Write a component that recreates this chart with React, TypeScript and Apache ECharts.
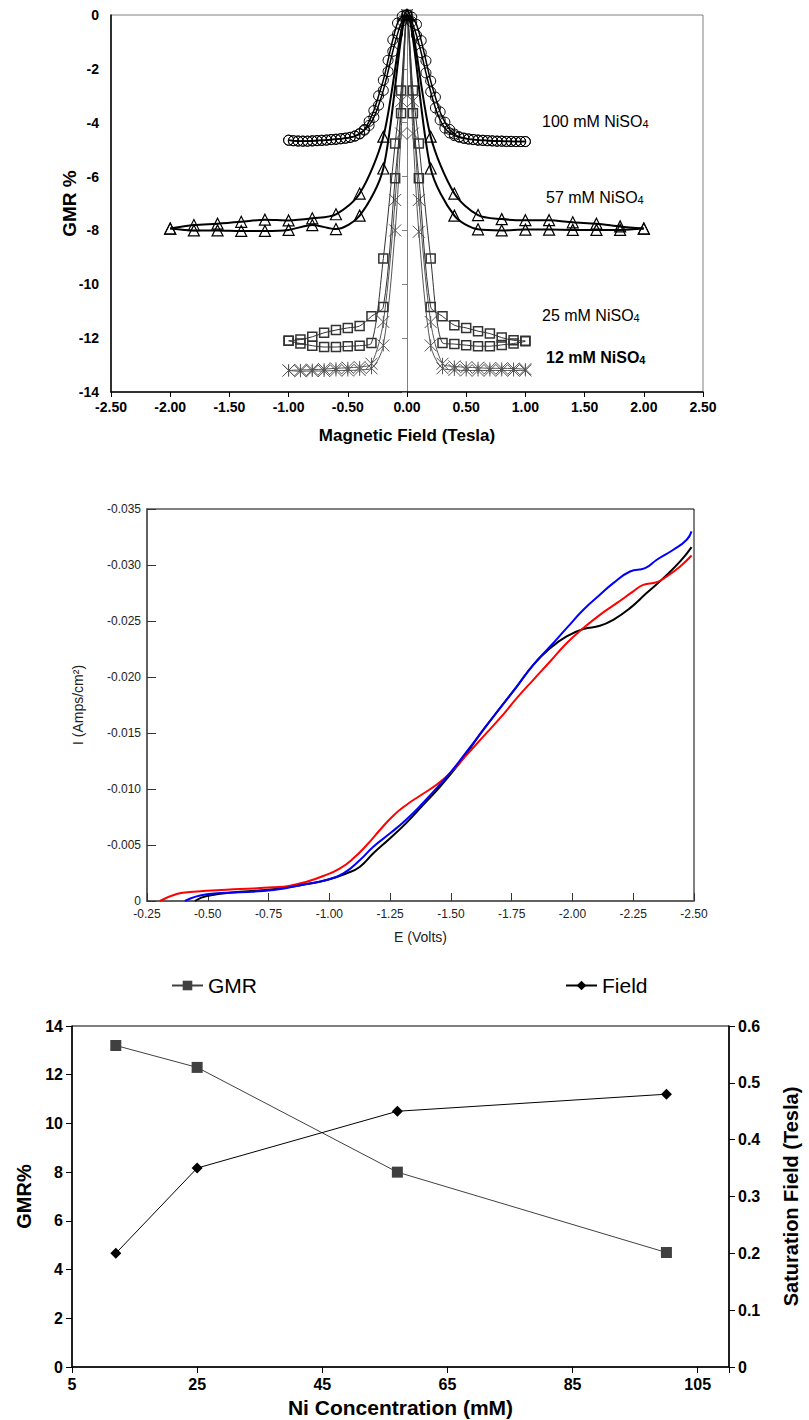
import React, { useEffect, useRef } from 'react';
import * as echarts from 'echarts';

const FONT = '"Liberation Sans", Arial, Helvetica, sans-serif';

// ---- Panel 1: GMR loops versus magnetic field, one pair of sweep branches per bath ----
const fieldFine = [
  -1.0, -0.96, -0.92, -0.88, -0.84, -0.8, -0.76, -0.72, -0.68, -0.64, -0.6, -0.56, -0.52,
  -0.48, -0.44, -0.4, -0.36, -0.32, -0.28, -0.24, -0.2, -0.16, -0.12, -0.08, -0.04, 0,
  0.04, 0.08, 0.12, 0.16, 0.2, 0.24, 0.28, 0.32, 0.36, 0.4, 0.44, 0.48, 0.52, 0.56, 0.6,
  0.64, 0.68, 0.72, 0.76, 0.8, 0.84, 0.88, 0.92, 0.96, 1.0,
];
const gmr100Up = [
  -4.65, -4.67, -4.68, -4.69, -4.69, -4.68, -4.67, -4.66, -4.65, -4.63, -4.62, -4.6, -4.58,
  -4.55, -4.5, -4.42, -4.25, -3.95, -3.55, -3.0, -2.42, -1.68, -0.92, -0.3, -0.05, 0,
  -0.25, -0.75, -1.4, -2.15, -2.85, -3.45, -3.9, -4.2, -4.38, -4.48, -4.54, -4.58, -4.61,
  -4.63, -4.65, -4.66, -4.67, -4.68, -4.69, -4.69, -4.7, -4.7, -4.7, -4.7, -4.7,
];
const gmr100Down = [
  -4.65, -4.67, -4.68, -4.68, -4.68, -4.67, -4.66, -4.65, -4.64, -4.62, -4.61, -4.59, -4.57,
  -4.54, -4.49, -4.4, -4.28, -4.1, -3.8, -3.35, -2.8, -2.1, -1.35, -0.7, -0.22, 0,
  -0.08, -0.35, -0.95, -1.7, -2.45, -3.05, -3.6, -3.98, -4.25, -4.42, -4.52, -4.57, -4.6,
  -4.62, -4.64, -4.65, -4.66, -4.67, -4.68, -4.68, -4.69, -4.69, -4.7, -4.7, -4.7,
];

const field57 = [-2.0, -1.8, -1.6, -1.4, -1.2, -1.0, -0.8, -0.6, -0.4, -0.2, 0, 0.2, 0.4, 0.6, 0.8, 1.0, 1.2, 1.4, 1.6, 1.8, 2.0];
const gmr57Up = [-7.93, -7.8, -7.75, -7.68, -7.6, -7.63, -7.55, -7.4, -6.63, -4.52, 0, -4.52, -6.63, -7.43, -7.58, -7.62, -7.62, -7.7, -7.75, -7.85, -7.93];
const gmr57Down = [-7.93, -8.0, -8.0, -8.02, -8.02, -7.98, -7.8, -7.95, -7.45, -5.7, 0, -5.7, -7.45, -7.96, -8.0, -7.97, -7.97, -7.98, -7.98, -7.98, -7.93];

const fieldCoarse = [-1.0, -0.9, -0.8, -0.7, -0.6, -0.5, -0.4, -0.3, -0.2, -0.1, -0.05, 0, 0.05, 0.1, 0.2, 0.3, 0.4, 0.5, 0.6, 0.7, 0.8, 0.9, 1.0];
const gmr25Up = [-12.1, -12.05, -11.95, -11.8, -11.7, -11.62, -11.55, -11.19, -10.84, -6.06, -3.65, 0, -3.65, -6.06, -10.84, -11.19, -11.52, -11.62, -11.74, -11.83, -11.98, -12.08, -12.1];
const gmr25Down = [-12.1, -12.2, -12.28, -12.33, -12.33, -12.3, -12.28, -12.18, -9.04, -4.77, -2.8, 0, -2.8, -4.77, -9.04, -12.18, -12.22, -12.26, -12.3, -12.3, -12.25, -12.2, -12.12];
const gmr12Up = [-13.2, -13.18, -13.17, -13.15, -13.12, -13.1, -13.07, -12.95, -11.4, -6.87, -3.2, 0, -3.2, -6.87, -11.4, -12.95, -13.05, -13.08, -13.1, -13.12, -13.12, -13.13, -13.15];
const gmr12Down = [-13.2, -13.23, -13.22, -13.22, -13.2, -13.2, -13.18, -13.12, -12.27, -8.0, -4.4, 0, -4.4, -8.05, -12.27, -13.12, -13.18, -13.2, -13.2, -13.2, -13.2, -13.2, -13.2];

const loopLabels = ['100 mM NiSO', '57 mM NiSO', '25 mM NiSO', '12 mM NiSO'];

// ---- Panel 2: polarisation curves, current density versus potential ----
const eBlack = [-0.447, -0.496, -0.633, -0.77, -0.907, -0.989, -1.071, -1.126, -1.181, -1.25, -1.318, -1.387, -1.455, -1.524, -1.565, -1.633, -1.702, -1.771, -1.839, -1.908, -1.976, -2.045, -2.113, -2.168, -2.237, -2.305, -2.374, -2.443, -2.49];
const iBlack = [0, -0.00045, -0.00083, -0.00104, -0.00152, -0.00188, -0.00247, -0.00306, -0.00426, -0.0056, -0.007, -0.0086, -0.0102, -0.012, -0.01319, -0.01528, -0.01722, -0.01915, -0.02109, -0.02257, -0.02362, -0.02428, -0.02457, -0.02511, -0.02615, -0.02749, -0.02883, -0.03032, -0.0316];
const eRed = [-0.303, -0.372, -0.427, -0.496, -0.633, -0.77, -0.838, -0.907, -0.975, -1.044, -1.099, -1.154, -1.208, -1.263, -1.318, -1.373, -1.442, -1.496, -1.565, -1.633, -1.702, -1.771, -1.839, -1.908, -1.976, -2.045, -2.113, -2.182, -2.25, -2.291, -2.347, -2.388, -2.443, -2.49];
const iRed = [0, -0.00063, -0.0008, -0.00092, -0.00107, -0.00122, -0.00137, -0.00172, -0.00223, -0.00292, -0.00381, -0.005, -0.00634, -0.00762, -0.0086, -0.0094, -0.0104, -0.01141, -0.01305, -0.01468, -0.01632, -0.01811, -0.01975, -0.02138, -0.02302, -0.02437, -0.02555, -0.02659, -0.02764, -0.02823, -0.02847, -0.02898, -0.02987, -0.03085];
const eBlue = [-0.406, -0.496, -0.633, -0.77, -0.907, -0.989, -1.058, -1.126, -1.181, -1.25, -1.318, -1.387, -1.455, -1.496, -1.565, -1.633, -1.702, -1.771, -1.839, -1.908, -1.976, -2.045, -2.113, -2.168, -2.237, -2.299, -2.347, -2.415, -2.47, -2.49];
const iBlue = [0, -0.0006, -0.00078, -0.00098, -0.00152, -0.00188, -0.00247, -0.00366, -0.00485, -0.00604, -0.0073, -0.0088, -0.0104, -0.01141, -0.01334, -0.01528, -0.01722, -0.01915, -0.02109, -0.02272, -0.02436, -0.026, -0.02734, -0.02838, -0.02942, -0.02972, -0.03047, -0.03136, -0.03226, -0.033];

// ---- Panel 3: GMR and saturation field versus Ni concentration ----
const niConc = [12, 25, 57, 100];
const gmrPct = [13.2, 12.3, 8.0, 4.7];
const satField = [0.2, 0.35, 0.45, 0.48];

const zip = (xs: number[], ys: number[]) => xs.map((x, i) => [x, ys[i]]);

const ASTERISK = 'path://M0,0L10,10M10,0L0,10M5,0L5,10';

function loopSeries(
  xs: number[], ys: number[], symbol: string, size: number,
  color: string, lineWidth: number, border: number, z: number,
) {
  return {
    type: 'line',
    xAxisIndex: 0,
    yAxisIndex: 0,
    data: zip(xs, ys),
    smooth: 0.3,
    symbol,
    symbolSize: size,
    itemStyle: { color: 'rgba(0,0,0,0)', borderColor: color, borderWidth: border },
    lineStyle: { color, width: lineWidth },
    silent: true,
    z,
  };
}

function curveSeries(xs: number[], ys: number[], color: string) {
  return {
    type: 'line',
    xAxisIndex: 1,
    yAxisIndex: 2,
    data: zip(xs, ys),
    smooth: 0.5,
    symbol: 'none',
    lineStyle: { color, width: 2 },
    silent: true,
  };
}

function loopLabel(text: string, x: number, y: number, bold: boolean) {
  const weight = bold ? 'bold' : 'normal';
  return {
    type: 'text',
    x,
    y,
    z: 50,
    style: {
      text: `{n|${text}}{s|4}`,
      verticalAlign: 'middle',
      rich: {
        n: { fontSize: 16, fontFamily: FONT, fontWeight: weight, fill: '#000' },
        s: { fontSize: 11, fontFamily: FONT, fontWeight: weight, fill: '#000', verticalAlign: 'bottom' },
      },
    },
  };
}

const boldLabel = (size: number) => ({ fontSize: size, fontWeight: 'bold', fontFamily: FONT, color: '#000' });

export default function App() {
  const ref = useRef<HTMLDivElement>(null);

  useEffect(() => {
    document.body.style.margin = '0';
    const chart = echarts.init(ref.current as HTMLDivElement, null, { renderer: 'svg' });

    const option = {
      animation: false,
      backgroundColor: '#fff',
      grid: [
        { left: 111, top: 15, width: 592, height: 377, show: true, borderColor: '#808080', borderWidth: 1 },
        { left: 147, top: 509, width: 547, height: 392, show: true, borderColor: '#000', borderWidth: 1 },
        { left: 72, top: 1026, width: 667, height: 341, show: true, borderColor: '#000', borderWidth: 1 },
      ],
      legend: [
        {
          data: ['GMR'], left: 166, top: 970, itemWidth: 31, itemHeight: 12, selectedMode: false,
          textStyle: { fontSize: 21, fontFamily: FONT, color: '#000' },
        },
        {
          data: ['Field'], left: 560, top: 970, itemWidth: 31, itemHeight: 12, selectedMode: false,
          textStyle: { fontSize: 21, fontFamily: FONT, color: '#000' },
        },
      ],
      xAxis: [
        {
          gridIndex: 0, type: 'value', min: -2.5, max: 2.5, interval: 0.5,
          axisLine: { onZero: false, lineStyle: { color: '#000', width: 1.5 } },
          axisTick: { length: 5, lineStyle: { color: '#000' } },
          axisLabel: { ...boldLabel(14), margin: 8, formatter: (v: number) => v.toFixed(2) },
          splitLine: { show: false },
          name: 'Magnetic Field (Tesla)', nameLocation: 'middle', nameGap: 35,
          nameTextStyle: boldLabel(17),
        },
        {
          gridIndex: 1, type: 'value', min: -2.5, max: -0.25, interval: 0.25, inverse: true,
          axisLine: { onZero: false, lineStyle: { color: '#606060', width: 2 } },
          axisTick: { inside: true, length: 8, lineStyle: { color: '#333' } },
          axisLabel: { fontSize: 12, fontFamily: FONT, color: '#222', margin: 7, formatter: (v: number) => v.toFixed(2) },
          splitLine: { show: false },
          name: 'E (Volts)', nameLocation: 'middle', nameGap: 29,
          nameTextStyle: { fontSize: 14, fontFamily: FONT, color: '#222' },
        },
        {
          gridIndex: 2, type: 'value', min: 5, max: 110, interval: 20,
          axisLine: { onZero: false, lineStyle: { color: '#000', width: 1.5 } },
          axisTick: { length: 6, lineStyle: { color: '#000' } },
          axisLabel: { ...boldLabel(16), margin: 9, formatter: (v: number) => (v > 106 ? '' : String(v)) },
          splitLine: { show: false },
          name: 'Ni Concentration (mM)', nameLocation: 'middle', nameGap: 30,
          nameTextStyle: boldLabel(21),
        },
      ],
      yAxis: [
        {
          gridIndex: 0, type: 'value', min: -14, max: 0, interval: 2,
          axisLine: { onZero: false, lineStyle: { color: '#000', width: 1.5 } },
          axisTick: { show: false },
          axisLabel: { ...boldLabel(14), margin: 12 },
          splitLine: { show: false },
          name: 'GMR %', nameLocation: 'middle', nameGap: 32, nameMoveOverlap: false,
          nameTextStyle: boldLabel(19),
        },
        {
          gridIndex: 0, type: 'value', min: -14, max: 0, interval: 2, position: 'left',
          axisLine: { onZero: true, lineStyle: { color: '#808080', width: 1 } },
          axisTick: { length: 5, lineStyle: { color: '#808080' } },
          axisLabel: { show: false },
          splitLine: { show: false },
        },
        {
          gridIndex: 1, type: 'value', min: -0.035, max: 0, interval: 0.005, inverse: true,
          axisLine: { onZero: false, lineStyle: { color: '#606060', width: 2 } },
          axisTick: { inside: true, length: 9, lineStyle: { color: '#333' } },
          axisLabel: {
            fontSize: 12, fontFamily: FONT, color: '#222', margin: 6,
            formatter: (v: number) => (Math.abs(v) < 1e-9 ? '0' : v.toFixed(3)),
          },
          splitLine: { show: false },
          name: 'I (Amps/cm²)', nameLocation: 'middle', nameGap: 62,
          nameTextStyle: { fontSize: 14, fontFamily: FONT, color: '#222' },
        },
        {
          gridIndex: 2, type: 'value', min: 0, max: 14, interval: 2, position: 'left',
          axisLine: { onZero: false, lineStyle: { color: '#000', width: 1.5 } },
          axisTick: { length: 6, lineStyle: { color: '#000' } },
          axisLabel: { ...boldLabel(16), margin: 9 },
          splitLine: { show: false },
          name: 'GMR%', nameLocation: 'middle', nameGap: 36,
          nameTextStyle: boldLabel(20),
        },
        {
          gridIndex: 2, type: 'value', min: 0, max: 0.6, interval: 0.1, position: 'right',
          axisLine: { onZero: false, lineStyle: { color: '#000', width: 1.5 } },
          axisTick: { length: 6, lineStyle: { color: '#000' } },
          axisLabel: { ...boldLabel(16), margin: 9, formatter: (v: number) => (v === 0 ? '0' : v.toFixed(1)) },
          splitLine: { show: false },
          name: 'Saturation Field (Tesla)', nameLocation: 'middle', nameGap: 52, nameRotate: 90,
          nameTextStyle: boldLabel(20),
        },
      ],
      graphic: [
        loopLabel(loopLabels[0], 542, 121, false),
        loopLabel(loopLabels[1], 546, 197, false),
        loopLabel(loopLabels[2], 542, 315, false),
        loopLabel(loopLabels[3], 546, 357, true),
      ],
      series: [
        loopSeries(fieldCoarse, gmr12Up, ASTERISK, 12, '#555', 1, 1, 2),
        loopSeries(fieldCoarse, gmr12Down, ASTERISK, 12, '#555', 1, 1, 2),
        loopSeries(fieldCoarse, gmr25Up, 'rect', 9, '#333', 1, 1.5, 3),
        loopSeries(fieldCoarse, gmr25Down, 'rect', 9, '#333', 1, 1.5, 3),
        loopSeries(field57, gmr57Up, 'triangle', 11, '#000', 2, 1.2, 4),
        loopSeries(field57, gmr57Down, 'triangle', 11, '#000', 2, 1.2, 4),
        loopSeries(fieldFine, gmr100Up, 'circle', 10, '#000', 1.5, 1, 5),
        loopSeries(fieldFine, gmr100Down, 'circle', 10, '#000', 1.5, 1, 5),

        curveSeries(eBlack, iBlack, '#000'),
        curveSeries(eRed, iRed, '#ff0000'),
        curveSeries(eBlue, iBlue, '#0000ff'),

        {
          type: 'line', name: 'GMR', xAxisIndex: 2, yAxisIndex: 3,
          data: zip(niConc, gmrPct),
          symbol: 'rect', symbolSize: 11,
          itemStyle: { color: '#404040' },
          lineStyle: { color: '#404040', width: 1 },
          silent: true,
        },
        {
          type: 'line', name: 'Field', xAxisIndex: 2, yAxisIndex: 4,
          data: zip(niConc, satField),
          symbol: 'diamond', symbolSize: 11,
          itemStyle: { color: '#000' },
          lineStyle: { color: '#000', width: 1 },
          silent: true,
        },
      ],
    };

    chart.setOption(option as any);
    return () => chart.dispose();
  }, []);

  return <div ref={ref} style={{ width: 809, height: 1420 }} />;
}
